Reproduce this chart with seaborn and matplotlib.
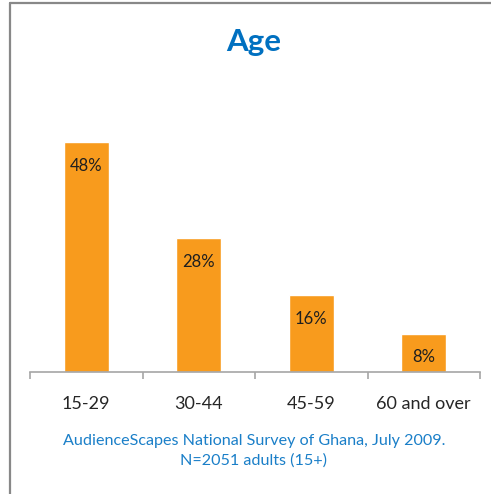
import matplotlib
matplotlib.use("Agg")
import matplotlib.pyplot as plt
from matplotlib.lines import Line2D
import seaborn as sns
import pandas as pd

age_groups = ["15-29", "30-44", "45-59", "60 and over"]
shares = [48, 28, 16, 8]
value_labels = ["48%", "28%", "16%", "8%"]

sns.set_theme(style="white")
plt.rcParams["font.family"] = ["Lato", "DejaVu Sans"]

W, H = 491, 494
fig = plt.figure(figsize=(W / 100, H / 100), dpi=100)
ax = fig.add_axes([30 / W, 1 - 372 / H, 450 / W, 287 / H])

df = pd.DataFrame({"age": age_groups, "share": shares})
sns.barplot(data=df, x="age", y="share", color="#F89B1D", saturation=1,
            width=0.4, ax=ax)

ax.set_xlim(-0.5, 3.5)
ax.set_ylim(0, 60)
ax.set_xlabel("")
ax.set_ylabel("")
ax.set_yticks([])
for s in ["top", "right", "left"]:
    ax.spines[s].set_visible(False)
ax.spines["bottom"].set_color("#A6A6A6")
ax.spines["bottom"].set_linewidth(1.2)

# category labels centered, tick marks on category boundaries
ax.set_xticks(range(len(age_groups)))
ax.set_xticklabels(age_groups, fontsize=13, color="#262626")
ax.tick_params(axis="x", which="major", length=0, pad=17)
ax.set_xticks([i - 0.5 for i in range(len(age_groups) + 1)], minor=True)
ax.tick_params(axis="x", which="minor", length=5, width=1.2, color="#A6A6A6",
               bottom=True)

for i, (v, lab) in enumerate(zip(shares, value_labels)):
    ax.annotate(lab, xy=(i, v), xytext=(0, -17), textcoords="offset points",
                ha="center", va="center", fontsize=12, color="#1F1F1F")

fig.text(254 / W, 1 - 42 / H, "Age", ha="center", va="center",
         fontsize=22.5, fontweight="bold", color="#0070C0")
fig.text(254 / W, 1 - 451 / H,
         "AudienceScapes National Survey of Ghana, July 2009.\nN=2051 adults (15+)",
         ha="center", va="center", fontsize=11.6, color="#1A7FC8",
         linespacing=1.45)

# frame lines along the top and left edges
fig.add_artist(Line2D([9.5 / W, 1], [1 - 3.5 / H, 1 - 3.5 / H],
                      transform=fig.transFigure, color="#888888", lw=1.6))
fig.add_artist(Line2D([9.5 / W, 9.5 / W], [0, 1 - 3.5 / H],
                      transform=fig.transFigure, color="#888888", lw=1.6))

fig.savefig("out.png", dpi=100, facecolor="white")
